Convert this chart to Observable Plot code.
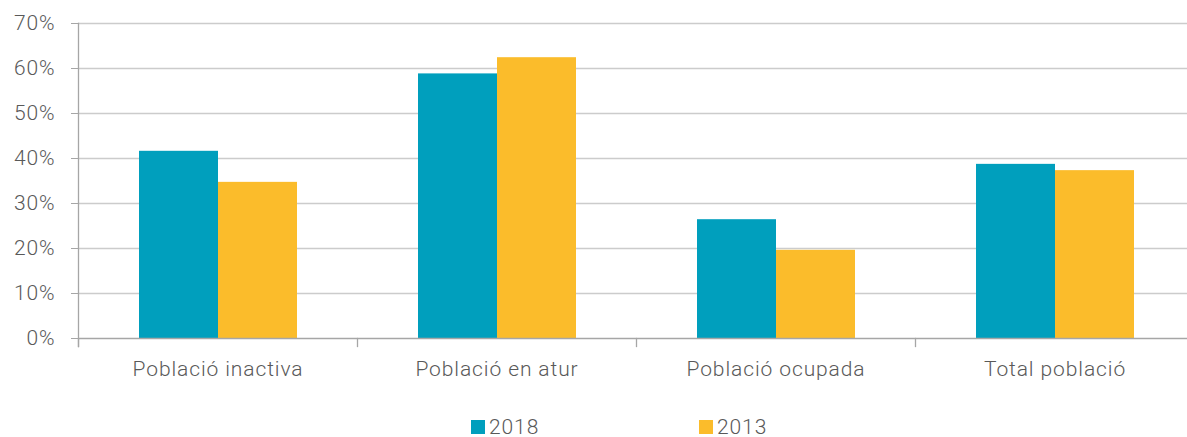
<!DOCTYPE html>
<html><head><meta charset="utf-8">
<script src="https://cdn.jsdelivr.net/npm/d3@7"></script>
<script src="https://cdn.jsdelivr.net/npm/@observablehq/plot@0.6"></script>
<style>
html,body{margin:0;padding:0;background:#fff;overflow:hidden;width:1187px;height:437px}
#chart svg{display:block;overflow:visible;max-width:none !important;height:400px !important}
#chart svg text{letter-spacing:0.9px;font-weight:300}
#legend{position:relative;height:37px;font-family:Roboto,sans-serif;font-size:21px;font-weight:300;letter-spacing:0.9px;color:#595959}
#legend .item{position:absolute;top:15px;display:flex;align-items:center;height:24px}
#legend .sw{width:14px;height:14px;margin-right:4px}
</style></head><body><div id="chart"></div><div id="legend"></div><script>
const categories = ["Població inactiva", "Població en atur", "Població ocupada", "Total població"];
const years = ["2018", "2013"];
const values2018 = [41.6, 58.8, 26.4, 38.7];
const values2013 = [34.7, 62.4, 19.6, 37.3];
const yTicks = [0, 10, 20, 30, 40, 50, 60, 70];
const colors = ["#009fbd", "#fbbc2b"];

const data = categories.flatMap((c, i) => [
  {category: c, year: years[0], value: values2018[i]},
  {category: c, year: years[1], value: values2013[i]}
]);

const axisGrey = "#a6a6a6";
const plot = Plot.plot({
  width: 1194, height: 400,
  marginLeft: 77, marginRight: 0, marginTop: 23, marginBottom: 62,
  style: {fontFamily: "Roboto, sans-serif", fontSize: "21px", color: "#595959", background: "#fff"},
  fx: {domain: categories, padding: 0, label: null},
  x: {domain: years, paddingInner: 0, paddingOuter: 0.75, axis: null},
  y: {domain: [0, 70], label: null},
  color: {domain: years, range: colors},
  marks: [
    Plot.ruleY(yTicks.slice(1), {stroke: "#cccccc", strokeWidth: 1.3}),
    Plot.barY(data, {fx: "category", x: "year", y: "value", fill: "year"}),
    Plot.ruleY([0], {stroke: axisGrey, strokeWidth: 1.3}),
    Plot.frame({anchor: "left", facetAnchor: "left", stroke: axisGrey, strokeWidth: 1.3, insetBottom: -8}),
    Plot.frame({anchor: "left", stroke: axisGrey, strokeWidth: 1.3, insetTop: 315, insetBottom: -8}),
    Plot.axisY(yTicks, {anchor: "left", tickSize: 7, tickPadding: 16, tickFormat: d => d + "%", fontSize: 21, color: "#595959", stroke: axisGrey, label: null}),
    Plot.axisFx({anchor: "bottom", tickSize: 0, tickPadding: 23, fontSize: 21, color: "#595959", label: null})
  ]
});
document.getElementById("chart").append(plot);

const colorScale = plot.scale("color");
const legendLeft = [471, 699];
const legend = document.getElementById("legend");
colorScale.domain.forEach((y, i) => {
  const item = document.createElement("div");
  item.className = "item";
  item.style.left = legendLeft[i] + "px";
  const sw = document.createElement("span");
  sw.className = "sw";
  sw.style.background = colorScale.range[i];
  const t = document.createElement("span");
  t.textContent = y;
  item.append(sw, t);
  legend.append(item);
});
</script></body></html>
